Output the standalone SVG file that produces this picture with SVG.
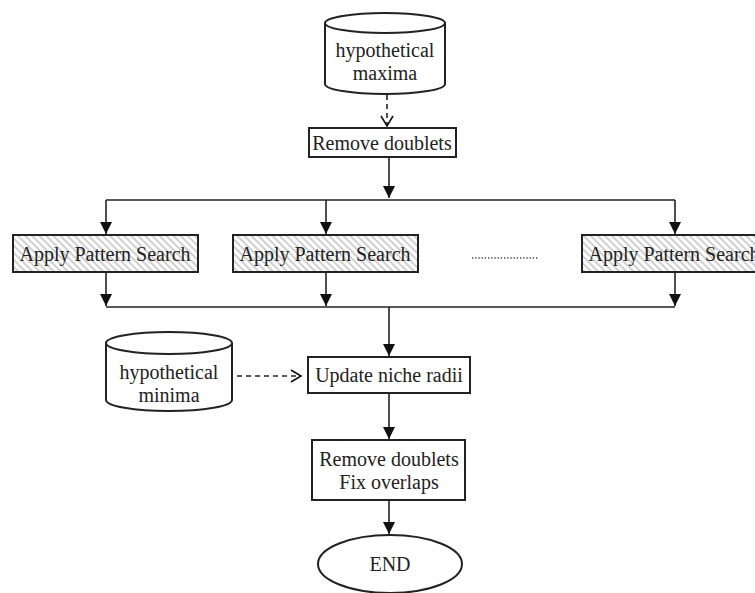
<svg xmlns="http://www.w3.org/2000/svg" width="755" height="593" viewBox="0 0 755 593">
<style>
.box{fill:#fff;stroke:#222;stroke-width:2}
.hatch{fill:url(#hatch);stroke:#222;stroke-width:2}
.t{font-family:"Liberation Serif","Times New Roman",serif;font-size:20px;fill:#222;text-anchor:middle}
.ln{fill:none;stroke:#222;stroke-width:1.6}
.dash{fill:none;stroke:#222;stroke-width:1.6;stroke-dasharray:5,4}
</style>
<defs>
<pattern id="hatch" patternUnits="userSpaceOnUse" width="5" height="5" patternTransform="rotate(-45)">
<rect width="5" height="5" fill="#fff"/>
<rect width="2" height="5" fill="#d0d0d0"/>
</pattern>
<marker id="arr" markerWidth="14" markerHeight="14" refX="12" refY="7" orient="auto" markerUnits="userSpaceOnUse">
<path d="M0,1 L12,7 L0,13 Z" fill="#111"/>
</marker>
<marker id="open" markerWidth="14" markerHeight="14" refX="11" refY="7" orient="auto" markerUnits="userSpaceOnUse">
<path d="M1,1 L11,7 L1,13" fill="none" stroke="#111" stroke-width="1.6"/>
</marker>
</defs>
<g id="connectors">
<path class="dash" d="M387,95 V126" marker-end="url(#open)"/>
<path class="ln" d="M389,157 V198" marker-end="url(#arr)"/>
<path class="ln" d="M106,200 H675"/>
<path class="ln" d="M106,200 V234" marker-end="url(#arr)"/>
<path class="ln" d="M326,200 V234" marker-end="url(#arr)"/>
<path class="ln" d="M675,200 V234" marker-end="url(#arr)"/>
<path class="ln" d="M106,272 V306" marker-end="url(#arr)"/>
<path class="ln" d="M326,272 V306" marker-end="url(#arr)"/>
<path class="ln" d="M675,272 V306" marker-end="url(#arr)"/>
<path class="ln" d="M106,307 H675"/>
<path class="ln" d="M389,307 V356" marker-end="url(#arr)"/>
<path class="dash" d="M237,376 H301" marker-end="url(#open)"/>
<path class="ln" d="M389,393 V439" marker-end="url(#arr)"/>
<path class="ln" d="M389,500 V534" marker-end="url(#arr)"/>
<path d="M472,258 H538" fill="none" stroke="#333" stroke-width="1.4" stroke-dasharray="1.2,2"/>
</g>
<g id="maxima">
<path class="box" d="M325,23 V84 A60,10 0 0 0 445,84 V23"/>
<ellipse class="box" cx="385" cy="23" rx="60" ry="10"/>
<text class="t" x="385" y="57">hypothetical</text>
<text class="t" x="385" y="80">maxima</text>
</g>
<g id="remove1">
<rect class="box" x="309" y="128" width="147" height="29"/>
<text class="t" x="382" y="150">Remove doublets</text>
</g>
<g id="aps1">
<rect class="hatch" x="13" y="235" width="185" height="37"/>
<text class="t" x="105" y="261">Apply Pattern Search</text>
</g>
<g id="aps2">
<rect class="hatch" x="233" y="235" width="185" height="37"/>
<text class="t" x="325" y="261">Apply Pattern Search</text>
</g>
<g id="aps3">
<rect class="hatch" x="582" y="235" width="185" height="37"/>
<text class="t" x="674" y="261">Apply Pattern Search</text>
</g>
<g id="minima">
<path class="box" d="M106,343 V400 A63,11 0 0 0 232,400 V343"/>
<ellipse class="box" cx="169" cy="343" rx="63" ry="11"/>
<text class="t" x="169" y="379">hypothetical</text>
<text class="t" x="169" y="402">minima</text>
</g>
<g id="update">
<rect class="box" x="308" y="357" width="162" height="36"/>
<text class="t" x="389" y="382">Update niche radii</text>
</g>
<g id="remove2">
<rect class="box" x="312" y="440" width="153" height="60"/>
<text class="t" x="389" y="466">Remove doublets</text>
<text class="t" x="389" y="489">Fix overlaps</text>
</g>
<g id="end">
<ellipse class="box" cx="390" cy="564" rx="72" ry="29"/>
<text class="t" x="390" y="571">END</text>
</g>
</svg>
